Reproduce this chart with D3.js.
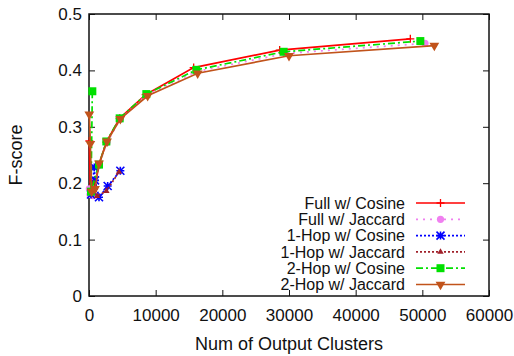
<!DOCTYPE html>
<html>
<head>
<meta charset="utf-8">
<script src="https://cdn.jsdelivr.net/npm/d3@7"></script>
<style>
  html, body { margin: 0; padding: 0; background: #fff; }
  svg { display: block; }
  text { font-family: "Liberation Sans", Arial, Helvetica, sans-serif; fill: #111; }
</style>
</head>
<body>
<svg id="chart" width="514" height="356"></svg>
<script>
// Number of output clusters vs. F-score for each graph/similarity setting
const seriesNames = [
  "Full w/ Cosine", "Full w/ Jaccard", "1-Hop w/ Cosine",
  "1-Hop w/ Jaccard", "2-Hop w/ Cosine", "2-Hop w/ Jaccard"
];
const fullCosineX = [50, 200, 600, 1500, 2600, 4600, 8500, 15700, 28600, 48200];
const fullCosineY = [0.275, 0.19, 0.185, 0.232, 0.273, 0.315, 0.357, 0.405, 0.436, 0.456];
const fullJaccardX = [50, 150, 600, 1500, 2700, 4700, 8600, 16100, 29500, 50400];
const fullJaccardY = [0.19, 0.18, 0.178, 0.232, 0.272, 0.314, 0.356, 0.398, 0.430, 0.448];
const hop1CosineX = [300, 800, 900, 1500, 2800, 4700];
const hop1CosineY = [0.18, 0.228, 0.205, 0.175, 0.195, 0.222];
const hop1JaccardX = [200, 700, 1200, 2600, 4500];
const hop1JaccardY = [0.185, 0.20, 0.177, 0.186, 0.22];
const hop2CosineX = [500, 300, 1500, 2600, 4600, 8600, 16100, 29200, 49700];
const hop2CosineY = [0.363, 0.185, 0.233, 0.274, 0.315, 0.358, 0.401, 0.433, 0.452];
const hop2JaccardX = [50, 200, 400, 900, 1500, 2700, 4700, 8800, 16300, 30000, 51800];
const hop2JaccardY = [0.322, 0.27, 0.185, 0.19, 0.235, 0.274, 0.314, 0.355, 0.395, 0.426, 0.444];
const xTicks = [0, 10000, 20000, 30000, 40000, 50000, 60000];
const yTicks = [0, 0.1, 0.2, 0.3, 0.4, 0.5];

const seriesX = [fullCosineX, fullJaccardX, hop1CosineX, hop1JaccardX, hop2CosineX, hop2JaccardX];
const seriesY = [fullCosineY, fullJaccardY, hop1CosineY, hop1JaccardY, hop2CosineY, hop2JaccardY];
const styles = [
  { color: "#ff0000", dash: null, marker: "plus" },
  { color: "#f080f0", dash: "2,5", marker: "circle" },
  { color: "#0000ff", dash: "2,2", marker: "star" },
  { color: "#a0202a", dash: "2,2", marker: "triUp" },
  { color: "#00e000", dash: "7,3,2,3", marker: "square" },
  { color: "#c1531b", dash: null, marker: "triDown" }
];

const svg = d3.select("#chart");
const margin = { left: 89, right: 25, top: 14, bottom: 60 };
const W = 514, H = 356;
const x = d3.scaleLinear().domain([0, 60000]).range([margin.left, W - margin.right]);
const y = d3.scaleLinear().domain([0, 0.5]).range([H - margin.bottom, margin.top]);

// axes with inward ticks, mirrored on top/right
const fmtY = d => d === 0 ? "0" : d3.format(".1f")(d);
svg.append("g").attr("transform", `translate(0,${y(0)})`)
  .call(d3.axisBottom(x).tickValues(xTicks).tickSizeInner(-6).tickSizeOuter(0).tickPadding(13).tickFormat(d3.format("d")));
svg.append("g").attr("transform", `translate(0,${y(0.5)})`)
  .call(d3.axisTop(x).tickValues(xTicks).tickSizeInner(-6).tickSizeOuter(0).tickFormat(""));
svg.append("g").attr("transform", `translate(${x(0)},0)`)
  .call(d3.axisLeft(y).tickValues(yTicks).tickSizeInner(-6).tickSizeOuter(0).tickPadding(7).tickFormat(fmtY));
svg.append("g").attr("transform", `translate(${x(60000)},0)`)
  .call(d3.axisRight(y).tickValues(yTicks).tickSizeInner(-6).tickSizeOuter(0).tickFormat(""));
svg.selectAll(".domain").remove();
svg.selectAll(".tick line").attr("stroke", "#111").attr("stroke-width", 1);
svg.selectAll(".tick text").style("font-size", "17px").attr("fill", "#111");

svg.append("rect").attr("x", x(0)).attr("y", y(0.5))
  .attr("width", x(60000) - x(0)).attr("height", y(0) - y(0.5))
  .attr("fill", "none").attr("stroke", "#111").attr("stroke-width", 1.5);

svg.append("text").attr("x", (x(0) + x(60000)) / 2).attr("y", 350)
  .attr("text-anchor", "middle").style("font-size", "18px").text("Num of Output Clusters");
svg.append("text").attr("transform", `translate(22,${(y(0) + y(0.5)) / 2}) rotate(-90)`)
  .attr("text-anchor", "middle").style("font-size", "18px").text("F-score");

function drawMarker(g, m, cx, cy, color) {
  const s = 4;
  if (m === "plus") {
    g.append("path").attr("d", `M${cx - s},${cy}H${cx + s}M${cx},${cy - s}V${cy + s}`)
      .attr("stroke", color).attr("stroke-width", 1.3);
  } else if (m === "circle") {
    g.append("circle").attr("cx", cx).attr("cy", cy).attr("r", 3.6).attr("fill", color);
  } else if (m === "star") {
    g.append("path").attr("d", `M${cx - s},${cy}H${cx + s}M${cx},${cy - s}V${cy + s}M${cx - s},${cy - s}L${cx + s},${cy + s}M${cx - s},${cy + s}L${cx + s},${cy - s}`)
      .attr("stroke", color).attr("stroke-width", 1.6);
  } else if (m === "triUp") {
    g.append("path").attr("d", d3.symbol(d3.symbolTriangle, 18)()).attr("transform", `translate(${cx},${cy})`).attr("fill", color);
  } else if (m === "square") {
    g.append("rect").attr("x", cx - 4).attr("y", cy - 4).attr("width", 8).attr("height", 8).attr("fill", color);
  } else if (m === "triDown") {
    g.append("path").attr("d", d3.symbol(d3.symbolTriangle, 42)()).attr("transform", `translate(${cx},${cy}) rotate(180)`).attr("fill", color);
  }
}

const line = d3.line().x(d => x(d[0])).y(d => y(d[1]));
seriesNames.forEach((name, i) => {
  const st = styles[i];
  const pts = seriesX[i].map((v, k) => [v, seriesY[i][k]]);
  const g = svg.append("g");
  g.append("path").datum(pts).attr("d", line).attr("fill", "none")
    .attr("stroke", st.color).attr("stroke-width", 1.7)
    .attr("stroke-dasharray", st.dash);
  pts.forEach(p => drawMarker(g, st.marker, x(p[0]), y(p[1]), st.color));

  // legend entry
  const ly = 203 + i * 16.3;
  svg.append("text").attr("x", 405).attr("y", ly).attr("dy", "0.35em")
    .attr("text-anchor", "end").style("font-size", "16px").text(name);
  svg.append("line").attr("x1", 416).attr("x2", 465).attr("y1", ly).attr("y2", ly)
    .attr("stroke", st.color).attr("stroke-width", 1.7).attr("stroke-dasharray", st.dash);
  drawMarker(svg, st.marker, 440.5, ly, st.color);
});
</script>
</body>
</html>
